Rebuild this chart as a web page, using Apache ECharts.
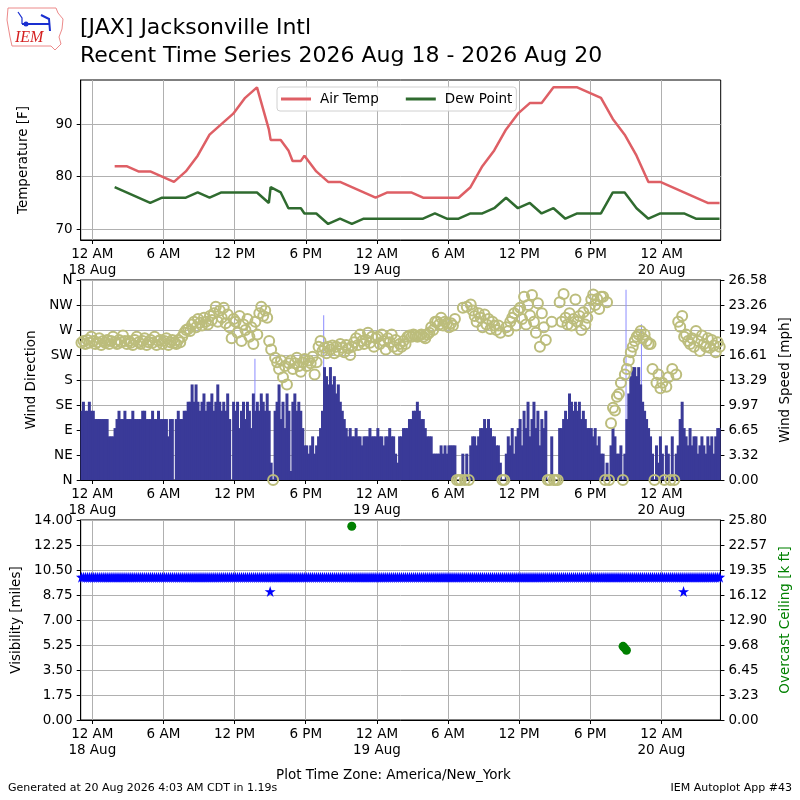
<!DOCTYPE html>
<html>
<head>
<meta charset="utf-8">
<script src="https://cdn.jsdelivr.net/npm/echarts@6/dist/echarts.min.js"></script>
<style>html,body{margin:0;padding:0;background:#fff}#main{width:800px;height:800px}</style>
</head>
<body>
<div id="main"></div>
<script>
// hourly obs (plus specials), 'day HH:MM' local time
var tempTimes = ['18 01:53','18 02:53','18 03:53','18 04:53','18 05:53','18 06:53','18 07:53','18 08:53','18 09:53','18 10:53',
  '18 11:53','18 12:53','18 13:53','18 14:53','18 15:02','18 15:53','18 16:32','18 16:53','18 17:35','18 17:53',
  '18 18:53','18 19:53','18 20:53','18 21:53','18 22:53','18 23:53','19 00:53','19 01:53','19 02:53','19 03:53',
  '19 04:53','19 05:53','19 06:53','19 07:53','19 08:53','19 09:53','19 10:53','19 11:53','19 12:53','19 13:53',
  '19 14:53','19 15:53','19 16:53','19 17:53','19 18:53','19 19:53','19 20:53','19 21:53','19 22:53','19 23:53',
  '20 00:53','20 01:53','20 02:53','20 03:53','20 04:53'];
var airTemp = [82,82,81,81,80,79,81,84,88,90, 92,95,97,89,87,87,85,83,83,84, 81,79,79,78,77,76,77,77,77,76,
  76,76,76,78,82,85,89,92,94,94, 97,97,97,96,95,91,88,84,79,79, 78,77,76,75,75];
var dewPoint = [78,77,76,75,76,76,76,77,76,77, 77,77,77,75,78,77,74,74,74,73, 73,71,72,71,72,72,72,72,72,72,
  73,72,72,73,73,74,76,74,75,73, 74,72,73,73,73,77,77,74,72,73, 73,73,72,72,72];

// wind, every 10 minutes starting 17 Aug 23:05 (six values per hour)
var windStart = '17 23:05';
var windStepMin = 10;
var windSpeed = [
  9.2,10.4,9.2,9.2,10.4,9.2,   9.2,8.1,8.1,8.1,8.1,8.1,    8.1,8.1,5.8,5.8,5.8,6.9,    8.1,9.2,8.1,8.1,9.2,8.1,
  8.1,8.1,9.2,8.1,8.1,8.1,     8.1,9.2,9.2,8.1,8.1,8.1,    9.2,8.1,8.1,9.2,8.1,8.1,    8.1,8.1,5.8,8.1,8.1,0,
  8.1,9.2,8.1,8.1,9.2,9.2,     10.4,10.4,12.7,10.4,12.7,10.4, 9.2,10.4,11.5,9.2,10.4,10.4, 11.5,9.2,10.4,12.7,10.4,9.2,
  10.4,9.2,11.5,8.1,0,10.4,    9.2,10.4,6.9,9.2,10.4,8.1,  10.4,9.2,6.9,11.5,9.2,10.4, 9.2,11.5,10.4,9.2,11.5,9.2,
  2.3,0,9.2,10.4,12.7,8.1,     10.4,6.9,11.5,9.2,1.2,10.4, 11.5,9.2,10.4,9.2,6.9,4.6,  4.6,3.5,4.6,5.8,3.5,4.6,
  5.8,6.9,9.2,15.0,13.8,12.7,  15.0,12.7,13.8,11.5,12.7,10.4, 9.2,8.1,6.9,5.8,6.9,5.8, 5.8,6.9,5.8,5.8,4.6,5.8,
  5.8,5.8,6.9,5.8,5.8,5.8,     6.9,5.8,5.8,4.6,5.8,5.8,    6.9,5.8,5.8,3.5,2.3,5.8,    5.8,6.9,6.9,6.9,8.1,8.1,
  9.2,9.2,10.4,9.2,8.1,8.1,    6.9,5.8,5.8,5.8,3.5,3.5,    3.5,3.5,4.6,3.5,4.6,3.5,    4.6,4.6,4.6,4.6,0,0,
  0,3.5,0,3.5,0,4.6,           5.8,5.8,4.6,5.8,6.9,6.9,    8.1,6.9,8.1,6.9,5.8,5.8,    4.6,4.6,2.3,0,0,3.5,
  5.8,4.6,6.9,3.5,5.8,6.9,     8.1,4.6,9.2,6.9,10.4,5.8,   8.1,10.4,6.9,9.2,4.6,8.1,   6.9,9.2,0,0,5.8,0,
  0,0,6.9,6.9,8.1,9.2,         8.1,11.5,10.4,9.2,10.4,9.2, 10.4,8.1,9.2,8.1,6.9,6.9,   6.9,5.8,6.9,4.6,5.8,3.5,
  3.5,0,2.3,0,4.6,6.9,         5.8,3.5,3.5,4.6,0,3.5,      8.1,11.5,13.8,15.0,15.0,13.8, 15.0,12.7,10.4,9.2,8.1,6.9,
  5.8,3.5,0,4.6,2.3,5.8,       3.5,0,4.6,3.5,0,5.8,        0,3.5,4.6,8.1,10.4,6.9,     5.8,4.6,6.9,4.6,5.8,5.8,
  3.5,4.6,5.8,4.6,3.5,5.8,     4.6,5.8,3.5,5.8,6.9,6.9
];
var windDir = [
  247,250,245,252,247,258,  250,245,248,255,243,250,  247,252,245,250,258,248,  245,252,248,260,250,245,
  250,247,243,252,258,248,  245,250,255,243,248,252,  247,258,243,250,252,245,  250,255,243,248,252,247,
  245,252,248,258,265,270,  272,268,280,285,275,290,  283,278,292,285,280,295,  288,300,312,285,305,292,
  310,282,298,275,255,290,  285,265,295,250,280,270,  290,258,275,245,285,262,  300,312,295,305,292,250,
  235,0,220,212,200,215,    185,205,172,210,215,200,  210,220,205,195,212,218,  205,215,210,222,190,212,
  240,250,232,238,228,240,  235,242,228,240,232,245,  238,230,243,237,225,240,  248,255,243,262,250,245,
  252,265,247,258,240,255,  258,245,262,250,235,255,  248,262,240,252,235,245,  240,250,245,258,260,258,
  262,260,258,260,262,258,  255,262,265,275,270,285,  285,280,292,278,285,282,  275,282,278,290,0,0,
  0,310,0,312,0,316,        305,295,285,300,292,275,  298,280,290,272,285,278,  270,278,265,0,0,275,
  268,285,292,300,278,305,  310,290,330,280,315,296,  333,285,265,318,240,300,  275,252,0,0,285,0,
  0,0,320,285,335,292,      280,300,278,290,325,285,  295,270,302,280,292,310,  325,334,315,326,308,330,
  330,0,320,0,102,130,      125,150,155,175,0,190,    200,215,230,240,250,258,  262,268,255,262,250,245,
  245,200,0,175,190,165,    175,0,168,185,0,200,      0,190,285,276,295,258,    262,250,245,255,240,268,
  250,232,260,245,240,255,  238,252,242,230,248,240
];
var gustTimes = ['18 13:48','18 19:36','18 20:12','19 21:06','19 22:24'];
var gustSpeed = [16.1, 21.9, 15.0, 25.3, 20.7];

// visibility on the same 10 minute clock, plus two lower readings
var visibility = [
  10,10,10,10,10,10,10,10,10,10,10,10,10,10,10,10,10,10,
  10,10,10,10,10,10,10,10,10,10,10,10,10,10,10,10,10,10,
  10,10,10,10,10,10,10,10,10,10,10,10,10,10,10,10,10,10,
  10,10,10,10,10,10,10,10,10,10,10,10,10,10,10,10,10,10,
  10,10,10,10,10,10,10,10,10,10,10,10,10,10,10,10,10,10,
  10,10,10,10,10,10,10,10,10,10,10,10,10,10,10,10,10,10,
  10,10,10,10,10,10,10,10,10,10,10,10,10,10,10,10,10,10,
  10,10,10,10,10,10,10,10,10,10,10,10,10,10,10,10,10,10,
  10,10,10,10,10,10,10,10,10,10,10,10,10,10,10,10,10,10,
  10,10,10,10,10,10,10,10,10,10,10,10,10,10,10,10,10,10,
  10,10,10,10,10,10,10,10,10,10,10,10,10,10,10,10,10,10,
  10,10,10,10,10,10,10,10,10,10,10,10,10,10,10,10,10,10,
  10,10,10,10,10,10,10,10,10,10,10,10,10,10,10,10,10,10,
  10,10,10,10,10,10,10,10,10,10,10,10,10,10,10,10,10,10,
  10,10,10,10,10,10,10,10,10,10,10,10,10,10,10,10,10,10,
  10,10,10,10,10,10,10,10,10,10,10,10,10,10,10,10,10,10,
  10,10,10,10,10,10,10,10,10,10,10,10,10,10,10,10,10,10,
  10,10,10,10,10,10,10,10,10,10,10,10,10,10,10,10,10,10
];
var visLowTimes = ['18 15:00','20 01:52'];
var visLow = [9, 9];
var ceilTimes = ['18 21:53','19 20:46','19 20:53','19 21:03'];
var ceilHeight = [25.0, 9.5, 9.3, 9.0];

// axis ticks
var xTickHours = [0,6,12,18,24,30,36,42,48];
var hourNames = {0:'12 AM', 6:'6 AM', 12:'12 PM', 18:'6 PM'};
var tempTicks = [70,80,90];
var dirTickLabels = ['N','NE','E','SE','S','SW','W','NW','N'];
var speedTickLabels = ['0.00','3.32','6.65','9.97','13.29','16.61','19.94','23.26','26.58'];
var visTickLabels = ['0.00','1.75','3.50','5.25','7.00','8.75','10.50','12.25','14.00'];
var ceilTickLabels = ['0.00','3.23','6.45','9.68','12.90','16.12','19.35','22.57','25.80'];

// hours since 18 Aug 00:00
function hoursOf(s) {
  var p = s.split(' '), hm = p[1].split(':');
  return (+p[0] - 18) * 24 + (+hm[0]) + (+hm[1]) / 60;
}
var w0 = hoursOf(windStart);
function windHour(i) { return w0 + i * windStepMin / 60; }

var FONT = 'DejaVu Sans';
var tempA = tempTimes.map(function(t, i) { return [hoursOf(t), airTemp[i]]; });
var tempD = tempTimes.map(function(t, i) { return [hoursOf(t), dewPoint[i]]; });
var spd = windSpeed.map(function(v, i) { return [windHour(i), v]; });
var dir = windDir.map(function(v, i) { return [windHour(i), v]; });
var gst = gustTimes.map(function(t, i) { return [hoursOf(t), gustSpeed[i]]; });
var vis = visibility.map(function(v, i) { return [windHour(i), v]; })
  .concat(visLowTimes.map(function(t, i) { return [hoursOf(t), visLow[i]]; }));
var ceil = ceilTimes.map(function(t, i) { return [hoursOf(t), ceilHeight[i]]; });

function xLabel(v) {
  var hod = ((v % 24) + 24) % 24;
  var day = 18 + Math.floor(v / 24);
  return hod === 0 ? hourNames[0] + '\n' + day + ' Aug' : hourNames[hod];
}

function xAxisFor(g) {
  return {
    type: 'value', gridIndex: g, min: -0.98, max: 52.98,
    axisLine: {show: true, onZero: false, lineStyle: {color: '#000'}},
    axisTick: {show: true, customValues: xTickHours, length: 4, lineStyle: {color: '#000'}},
    axisLabel: {customValues: xTickHours, formatter: xLabel, color: '#000', fontFamily: FONT,
      fontSize: 13.5, lineHeight: 16, margin: 6},
    splitLine: {show: true, lineStyle: {color: '#b0b0b0', width: 1}}
  };
}

function yBase(g, extra) {
  var ax = {
    type: 'value', gridIndex: g,
    axisLine: {show: true, onZero: false, lineStyle: {color: '#000'}},
    axisTick: {show: true, length: 4, lineStyle: {color: '#000'}},
    axisLabel: {color: '#000', fontFamily: FONT, fontSize: 13.5, margin: 8},
    splitLine: {show: true, lineStyle: {color: '#b0b0b0', width: 1}},
    nameLocation: 'middle',
    nameTextStyle: {color: '#000', fontFamily: FONT, fontSize: 13.5}
  };
  for (var k in extra) ax[k] = extra[k];
  return ax;
}

var starPath = 'path://M50,0 L61.8,35.3 L98.9,35.3 L68.9,57.1 L80.3,92.4 L50,70.6 L19.7,92.4 L31.1,57.1 L1.1,35.3 L38.2,35.3 Z';

var chartDom = document.getElementById('main');
var myChart = echarts.init(chartDom, null, {renderer: 'canvas'});

var option = {
  animation: false,
  backgroundColor: '#fff',
  textStyle: {fontFamily: FONT},
  grid: [
    {left: 80.7, right: 79.3, top: 80, height: 160, show: true, borderColor: '#000', borderWidth: 1},
    {left: 80.7, right: 79.3, top: 280, height: 200, show: true, borderColor: '#000', borderWidth: 1},
    {left: 80.7, right: 79.3, top: 520, height: 200, show: true, borderColor: '#000', borderWidth: 1}
  ],
  legend: {
    data: [{name: 'Air Temp', icon: 'rect'}, {name: 'Dew Point', icon: 'rect'}],
    left: 277, top: 87, padding: [5, 4], itemGap: 27, itemWidth: 30, itemHeight: 3,
    borderColor: '#d0d0d0', borderWidth: 1, borderRadius: 3, backgroundColor: 'rgba(255,255,255,0.85)',
    textStyle: {fontFamily: FONT, fontSize: 13.5, color: '#000', padding: [0, 0, 0, 4]}
  },
  xAxis: [xAxisFor(0), xAxisFor(1), xAxisFor(2)],
  yAxis: [
    yBase(0, {min: 67.95, max: 98.4, name: 'Temperature [F]', nameGap: 50,
      axisTick: {show: true, customValues: tempTicks, length: 4, lineStyle: {color: '#000'}},
      axisLabel: {customValues: tempTicks, color: '#000', fontFamily: FONT, fontSize: 13.5, margin: 8}}),
    yBase(1, {min: 0, max: 360, interval: 45, name: 'Wind Direction', nameGap: 40,
      axisLabel: {color: '#000', fontFamily: FONT, fontSize: 13.5, margin: 8,
        formatter: function(v) { return dirTickLabels[Math.round(v / 45)]; }}}),
    yBase(1, {min: 0, max: 26.58, interval: 26.58 / 8, position: 'right', name: 'Wind Speed [mph]', nameGap: 55,
      splitLine: {show: false},
      axisLabel: {color: '#000', fontFamily: FONT, fontSize: 13.5, margin: 8,
        formatter: function(v) { return speedTickLabels[Math.round(v / (26.58 / 8))]; }}}),
    yBase(2, {min: 0, max: 14, interval: 1.75, name: 'Visibility [miles]', nameGap: 55,
      axisLabel: {color: '#000', fontFamily: FONT, fontSize: 13.5, margin: 8,
        formatter: function(v) { return visTickLabels[Math.round(v / 1.75)]; }}}),
    yBase(2, {min: 0, max: 25.8, interval: 25.8 / 8, position: 'right', name: 'Overcast Ceiling [k ft]', nameGap: 55,
      splitLine: {show: false},
      nameTextStyle: {color: '#008000', fontFamily: FONT, fontSize: 13.5},
      axisLabel: {color: '#000', fontFamily: FONT, fontSize: 13.5, margin: 8,
        formatter: function(v) { return ceilTickLabels[Math.round(v / (25.8 / 8))]; }}})
  ],
  series: [
    {name: 'Air Temp', type: 'line', xAxisIndex: 0, yAxisIndex: 0, data: tempA, symbol: 'none',
      color: '#de5f65', lineStyle: {width: 2.5}},
    {name: 'Dew Point', type: 'line', xAxisIndex: 0, yAxisIndex: 0, data: tempD, symbol: 'none',
      color: '#2f6b2f', lineStyle: {width: 2.5}},
    {name: 'Gust', type: 'bar', xAxisIndex: 1, yAxisIndex: 2, data: gst, barWidth: 1, barGap: '-100%',
      color: '#8c8cff', z: 2},
    {name: 'Wind Speed', type: 'bar', xAxisIndex: 1, yAxisIndex: 2, data: spd, barWidth: 3, barGap: '-100%',
      color: '#3a3a98', z: 3},
    {name: 'Wind Direction', type: 'scatter', xAxisIndex: 1, yAxisIndex: 1, data: dir, symbol: 'circle',
      symbolSize: 10, z: 4,
      itemStyle: {color: 'rgba(0,0,0,0)', borderColor: '#bcbd7c', borderWidth: 2, opacity: 1}},
    {name: 'Visibility', type: 'scatter', xAxisIndex: 2, yAxisIndex: 3, data: vis, symbol: starPath,
      symbolSize: 11, color: '#0000ff', z: 3, itemStyle: {opacity: 1}},
    {name: 'Ceiling', type: 'scatter', xAxisIndex: 2, yAxisIndex: 4, data: ceil, symbol: 'circle',
      symbolSize: 9, color: '#008000', z: 4, itemStyle: {opacity: 1}}
  ],
  graphic: [
    // logo
    {type: 'polygon', shape: {points: [[8,8],[56,8],[58,13],[63,19],[62,29],[59,37],[61,44],[55,50],[51,46],[12,46],[10,37],[7,20]]},
      style: {fill: 'none', stroke: '#ec8a8a', lineWidth: 1}},
    {type: 'polyline', shape: {points: [[22,24],[50,24]]}, style: {stroke: '#1a2fd0', lineWidth: 2}},
    {type: 'polyline', shape: {points: [[18,12],[22,18],[22,24]]}, style: {stroke: '#1a2fd0', lineWidth: 1.2, fill: 'none'}},
    {type: 'polyline', shape: {points: [[41,15],[49,19],[50,31]]}, style: {stroke: '#1a2fd0', lineWidth: 2, fill: 'none'}},
    {type: 'circle', shape: {cx: 26, cy: 24, r: 2.5}, style: {fill: '#1a2fd0'}},
    {type: 'text', left: 15, top: 30, style: {text: 'IEM', fill: '#d42020', font: 'italic 16px "Liberation Serif"'}},
    // titles
    {type: 'text', left: 80, top: 17, style: {text: '[JAX] Jacksonville Intl', fill: '#000', font: '22px "DejaVu Sans"'}},
    {type: 'text', left: 80, top: 45, style: {text: 'Recent Time Series 2026 Aug 18 - 2026 Aug 20', fill: '#000', font: '22px "DejaVu Sans"'}},
    // footer
    {type: 'text', left: 400 - 124, top: 768, style: {text: 'Plot Time Zone: America/New_York', fill: '#000', font: '13.5px "DejaVu Sans"'}},
    {type: 'text', left: 8, top: 783, style: {text: 'Generated at 20 Aug 2026 4:03 AM CDT in 1.19s', fill: '#000', font: '11px "DejaVu Sans"'}},
    {type: 'text', right: 8, top: 783, style: {text: 'IEM Autoplot App #43', fill: '#000', font: '11px "DejaVu Sans"'}}
  ]
};

myChart.setOption(option);
window.addEventListener('resize', function() {
  myChart.resize();
});
</script>
</body>
</html>
